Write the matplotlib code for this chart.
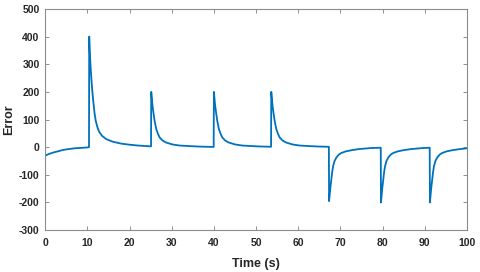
import matplotlib
matplotlib.use("Agg")
import matplotlib.pyplot as plt
import numpy as np

# ---- data ----
seg0_t = [0, 0.5, 1, 2, 3, 4, 5, 6, 7, 8, 9, 10, 10.4]
seg0_v = [-32, -27, -24, -19, -15, -11, -8, -6, -4, -3, -2, -1, 0]

seg1_t = [10.45, 10.6, 10.8, 11.0, 11.2, 11.45, 11.7, 12.0, 12.4, 12.8, 13.5, 14.5, 16, 18, 20, 22, 24, 25.1]
seg1_v = [400, 340, 285, 240, 200, 160, 125, 95, 72, 56, 41, 29, 20, 13, 9, 6, 4, 3]

seg2_t = [25.15, 25.3, 25.45, 25.7, 25.95, 26.35, 26.75, 27.15, 27.85, 28.65, 30.15, 31.85, 34.15, 36.15, 38.15, 39.95]
seg2_v = [200, 175, 150, 122, 95, 65, 48, 35, 24, 17, 10, 6, 4, 2.5, 1.5, 1]

seg3_t = [40.0, 40.15, 40.3, 40.55, 40.8, 41.2, 41.6, 42.0, 42.7, 43.5, 45.0, 46.7, 49.0, 51.0, 53.55]
seg3_v = [200, 175, 150, 122, 95, 65, 48, 35, 24, 17, 10, 6, 4, 2.5, 1.5]

seg4_t = [53.6, 53.75, 53.9, 54.15, 54.4, 54.8, 55.2, 55.6, 56.3, 57.1, 58.6, 60.3, 62.6, 64.6, 67.25]
seg4_v = [200, 175, 150, 122, 95, 65, 48, 35, 24, 17, 10, 6, 4, 2.5, 1.5]

seg5_t = [67.3, 67.45, 67.6, 67.83, 68.05, 68.25, 68.6, 69.05, 69.6, 70.2, 71.3, 72.6, 74.3, 75.8, 77.3, 79.55]
seg5_v = [-195, -172, -148, -117, -89, -69, -50, -37, -27, -21, -15, -11, -7, -5, -3, -2]

seg6_t = [79.6, 79.75, 79.9, 80.13, 80.35, 80.55, 80.9, 81.35, 81.9, 82.5, 83.6, 84.9, 86.6, 88.1, 89.6, 91.15]
seg6_v = [-200, -175, -150, -119, -90, -70, -50, -37, -27, -21, -15, -11, -7, -5, -3, -2]

seg7_t = [91.2, 91.35, 91.5, 91.73, 91.95, 92.15, 92.5, 92.95, 93.5, 94.1, 95.2, 96.5, 98.2, 100]
seg7_v = [-200, -175, -150, -119, -90, -70, -50, -37, -27, -21, -15, -11, -7, -4]

x_ticks = [0, 10, 20, 30, 40, 50, 60, 70, 80, 90, 100]
y_ticks = [-300, -200, -100, 0, 100, 200, 300, 400, 500]

time = np.concatenate([seg0_t, seg1_t, seg2_t, seg3_t, seg4_t, seg5_t, seg6_t, seg7_t])
error = np.concatenate([seg0_v, seg1_v, seg2_v, seg3_v, seg4_v, seg5_v, seg6_v, seg7_v])

# ---- figure ----
plt.rcParams['font.family'] = ['Liberation Sans', 'DejaVu Sans']
plt.rcParams['axes.unicode_minus'] = False
fig = plt.figure(figsize=(4.8, 2.72), dpi=100)
ax = fig.add_axes([0.094, 0.154, 0.879, 0.813])

ax.plot(time, error, color='#0072BD', linewidth=1.3)

ax.set_xlim(0, 100)
ax.set_ylim(-300, 500)
ax.set_xticks(x_ticks)
ax.set_yticks(y_ticks)

tick_col = '#262626'
for lab in ax.get_xticklabels() + ax.get_yticklabels():
    lab.set_fontweight('bold')
ax.tick_params(direction='in', length=3, width=0.6, colors='#7f7f7f',
               labelcolor=tick_col, labelsize=7.5, top=True, right=True)
ax.tick_params(axis='x', pad=6)
ax.tick_params(axis='y', pad=4)
for s in ax.spines.values():
    s.set_color('#8c8c8c')
    s.set_linewidth(0.8)

ax.set_xlabel('Time (s)', fontsize=9, fontweight='bold', color=tick_col, labelpad=7)
ax.set_ylabel('Error', fontsize=9, fontweight='bold', color=tick_col, va='center')
ax.yaxis.set_label_coords(-0.086, 0.5)

fig.savefig('out.png', dpi=100)
